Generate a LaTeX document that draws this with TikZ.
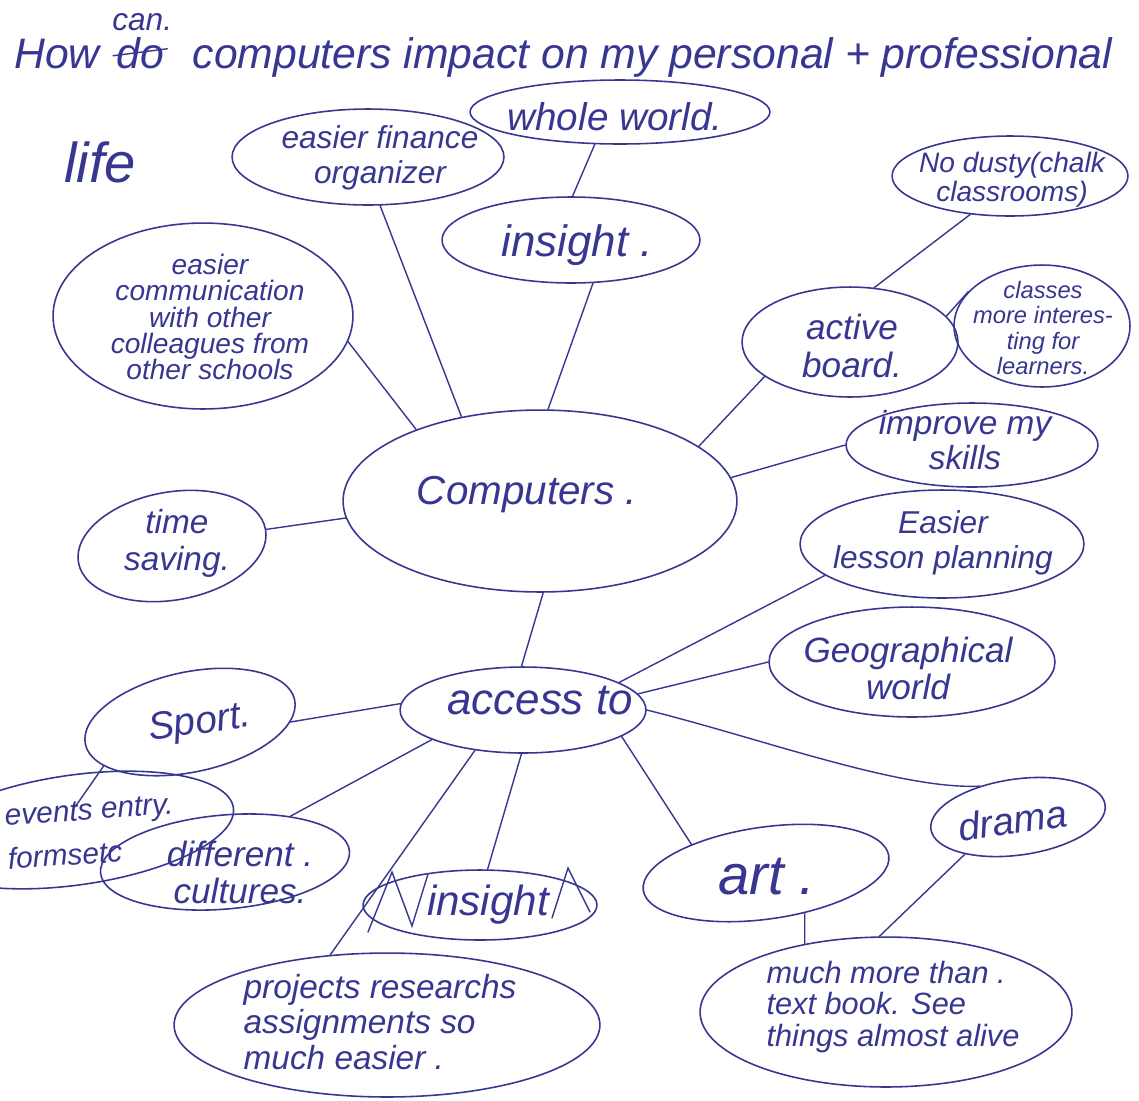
\documentclass[tikz,border=0pt]{standalone}
\usepackage{fontspec}
\setmainfont{Liberation Sans}
\usetikzlibrary{shapes.geometric,calc}
\definecolor{ink}{RGB}{55,55,145}
\newcommand\hfs[2]{\fontsize{#1}{#2}\selectfont\itshape}
\tikzset{
  bub/.style 2 args={draw=ink, ellipse, line width=0.9pt, inner sep=0pt,
    minimum width=#1*0.04cm, minimum height=#2*0.04cm},
  lab/.style={text=ink, align=center, inner sep=0pt},
  lnk/.style={draw=ink, line width=0.8pt, line cap=round},
}
\begin{document}
\begin{tikzpicture}[x=0.02cm,y=-0.02cm]
\useasboundingbox[fill=white] (0,0) rectangle (1139,1100);

% title
\node[lab, anchor=base west, font={\hfs{24.3}{25}}] (tHow) at (14,68) {How};
\node[lab, anchor=base west, font={\hfs{24.3}{25}}] (tDo) at ($(tHow.base east)+(16,0)$) {do};
\node[lab, anchor=base west, font={\hfs{24.3}{25}}] (tRest) at ($(tDo.base east)+(28,0)$) {computers impact on my personal + professional};
\node[lab, anchor=south, font={\hfs{18}{18}}] (tCan) at ($(tDo.north)+(2,-6)$) {can.};
\draw[lnk] ($(tDo.west)+(-3,3)$) -- ($(tDo.east)+(3,-4)$);
\node[lab, font={\hfs{32}{32}}] (tLife) at (100,162) {life};

% ellipses
\node[bub={150}{32}] (whole) at (620,112) {};
\node[bub={136}{48}] (finance) at (368,157) {};
\node[bub={129}{43}] (insight) at (571,240) {};
\node[bub={118}{40}] (nodusty) at (1010,176) {};
\node[bub={150}{93}] (comm) at (203,316) {};
\node[bub={108}{55}] (active) at (850,342) {};
\node[bub={88}{61}] (classes) at (1042,326) {};
\node[bub={126}{42}] (improve) at (972,445) {};
\node[bub={197}{91}] (computers) at (540,501) {};
\node[bub={95}{54}, rotate=10] (time) at (172,546) {};
\node[bub={142}{54}] (lesson) at (942,544) {};
\node[bub={143}{55}] (geo) at (912,662) {};
\node[bub={123}{43}] (access) at (523,710) {};
\node[bub={107}{50}, rotate=12] (sport) at (190,722) {};
\node[bub={160}{55}, rotate=8] (events) at (75,830) {};
\node[bub={125}{47}, rotate=5] (cultures) at (225,862) {};
\node[bub={117}{35}] (insight2) at (480,905) {};
\node[bub={124}{46}, rotate=8] (art) at (766,873) {};
\node[bub={88}{38}, rotate=8] (drama) at (1018,817) {};
\node[bub={213}{72}] (projects) at (387,1025) {};
\node[bub={186}{75}] (much) at (886,1012) {};

% texts
\node[lab, font={\hfs{22}{22}}] (wholeT) at (615,117) {whole world.};
\node[lab, font={\hfs{18}{20}}] (financeT) at (380,158) {easier finance\\organizer};
\node[lab, font={\hfs{25}{25}}] (insightT) at (577,245) {insight .};
\node[lab, font={\hfs{16}{16.5}}] (nodustyT) at (1012,180) {No dusty(chalk\\classrooms)};
\node[lab, font={\hfs{16}{15}}] (commT) at (210,317) {easier\\communication\\with other\\colleagues from\\other schools};
\node[lab, font={\hfs{20}{22}}] (activeT) at (852,346) {active\\board.};
\node[lab, font={\hfs{13.5}{14.5}}] (classesT) at (1043,328) {classes\\more interes-\\ting for\\learners.};
\node[lab, font={\hfs{19}{20}}] (improveT) at (965,440) {improve my\\skills};
\node[lab, font={\hfs{23}{23}}] (computersT) at (527,495) {Computers .};
\node[lab, font={\hfs{19}{21}}] (timeT) at (177,543) {time\\saving.};
\node[lab, font={\hfs{18}{20}}] (lessonT) at (943,543) {Easier\\lesson planning};
\node[lab, font={\hfs{20}{21}}] (geoT) at (908,668) {Geographical\\world};
\node[lab, font={\hfs{25}{25}}] (accessT) at (540,700) {access to};
\node[lab, rotate=8, font={\hfs{22}{22}}] (sportT) at (200,724) {Sport.};
\node[lab, anchor=west, align=left, rotate=4, font={\hfs{17}{25}}] (eventsT) at (6,838) {events entry.\\formsetc};
\node[lab, font={\hfs{20}{21}}] (culturesT) at (240,872) {different .\\cultures.};
\node[lab, font={\hfs{24}{24}}] (insight2T) at (488,905) {insight};
\node[lab, font={\hfs{32}{32}}] (artT) at (767,877) {art .};
\node[lab, rotate=8, font={\hfs{22}{22}}] (dramaT) at (1013,820) {drama};
\node[lab, align=left, font={\hfs{19}{20}}] (projectsT) at (380,1022) {projects researchs\\assignments so\\much easier .};
\node[lab, align=left, font={\hfs{17.5}{18}}] (muchT) at (893,1007) {much more than .\\text book. See\\things almost alive};

% scribble over second insight
\draw[lnk] (368,932) -- (392,872) -- (412,926) -- (428,874);
\draw[lnk] (552,918) -- (568,868) -- (590,912);

% connectors
\coordinate (evtip) at (75,807);
\draw[lnk] (whole.232) -- (insight.88);
\draw[lnk] (insight.-63) -- (computers.85);
\draw[lnk] (finance.-76) -- (computers.133);
\draw[lnk] (comm.-10) -- (computers.150);
\draw[lnk] (nodusty.224) -- (active.66);
\draw[lnk] (active.15) -- (classes.155);
\draw[lnk] (active.202) -- (computers.19);
\draw[lnk] (improve.west) -- (computers.7);
\draw[lnk] (time.0) -- (computers.185);
\draw[lnk] (computers.272) -- (access.92);
\draw[lnk] (access.16) -- (lesson.195);
\draw[lnk] (access.8) -- (geo.180);
\draw[lnk] (access.177) -- (sport.-12);
\draw[lnk] (access.198) -- (cultures.30);
\draw[lnk] (access.220) -- (projects.129);
\draw[lnk] (access.268) -- (insight2.78);
\draw[lnk] (access.345) -- (art.151);
\draw[lnk] (access.0) .. controls (760,738) and (900,790) .. (drama.133);
\draw[lnk] (art.-54) -- (much.140);
\draw[lnk] (drama.207) -- (much.95);
\draw[lnk] (sport.195) -- (evtip);
\end{tikzpicture}
\end{document}
